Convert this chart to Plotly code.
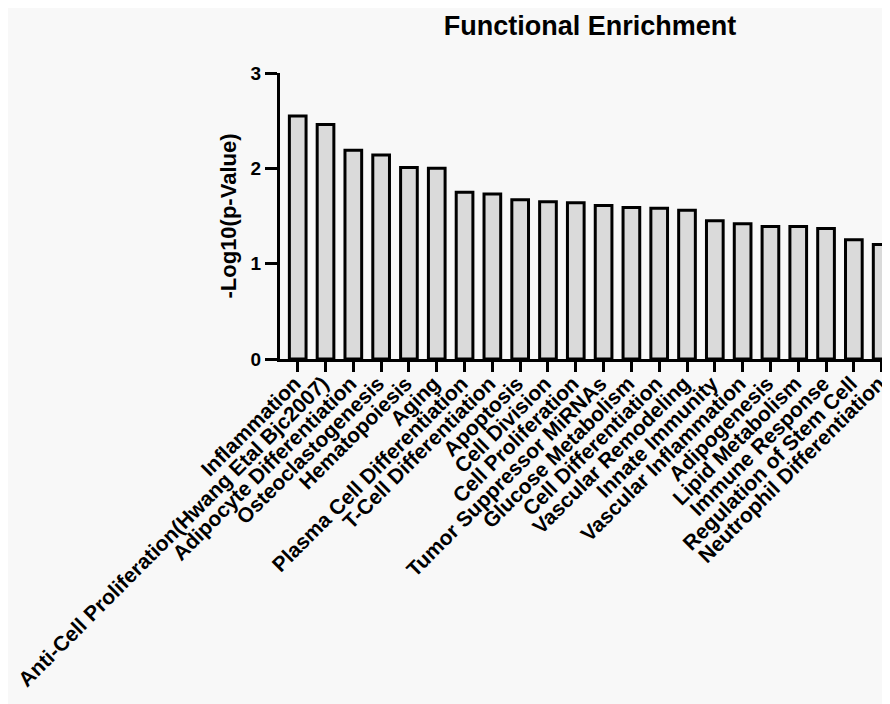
import plotly.graph_objects as go

categories = [
    "Inflammation",
    "Anti-Cell Proliferation(Hwang Etal Bjc2007)",
    "Adipocyte Differentiation",
    "Osteoclastogenesis",
    "Hematopoiesis",
    "Aging",
    "Plasma Cell Differentiation",
    "T-Cell Differentiation",
    "Apoptosis",
    "Cell Division",
    "Cell Proliferation",
    "Tumor Suppressor MiRNAs",
    "Glucose Metabolism",
    "Cell Differentiation",
    "Vascular Remodeling",
    "Innate Immunity",
    "Vascular Inflammation",
    "Adipogenesis",
    "Lipid Metabolism",
    "Immune Response",
    "Regulation of Stem Cell",
    "Neutrophil Differentiation",
]
values = [2.55, 2.46, 2.19, 2.14, 2.01, 2.00, 1.75, 1.73, 1.67, 1.65, 1.64,
          1.61, 1.59, 1.58, 1.56, 1.45, 1.42, 1.39, 1.39, 1.37, 1.25, 1.20]
y_ticks = [0, 1, 2, 3]

FONT = "Liberation Sans, Arial, sans-serif"
BG = "#f8f8f8"

fig = go.Figure(go.Bar(
    x=list(range(len(categories))),
    y=values,
    width=0.6,
    marker=dict(color="#dadada", line=dict(color="black", width=3)),
))

fig.update_layout(
    width=882, height=696,
    paper_bgcolor=BG, plot_bgcolor=BG,
    margin=dict(l=272, r=0, t=65, b=345, autoexpand=False),
    showlegend=False,
    title=dict(text="Functional Enrichment", x=582 / 882, xanchor="center",
               y=1 - 18 / 696, yanchor="middle", yref="container",
               font=dict(family=FONT, size=27, color="black", weight="bold")),
)
fig.update_xaxes(
    tickmode="array", tickvals=list(range(len(categories))), ticktext=categories,
    tickangle=-45, range=[-0.637, 21.3], automargin=False,
    showline=True, linecolor="black", linewidth=3,
    ticks="outside", ticklen=10, tickwidth=3, tickcolor="black",
    showgrid=False, zeroline=False, ticklabeloverflow="allow",
    ticklabelstandoff=-9, ticklabelshift=-3,
    tickfont=dict(family=FONT, size=21, color="black", weight="bold"),
)
fig.update_yaxes(
    range=[0, 3], tickvals=y_ticks, automargin=False,
    showline=True, linecolor="black", linewidth=3,
    ticks="outside", ticklen=12, tickwidth=3, tickcolor="black",
    showgrid=False, zeroline=False,
    tickfont=dict(family=FONT, size=19, color="black", weight="bold"),
    title=dict(text="-Log10(p-Value)", standoff=8,
               font=dict(family=FONT, size=22, color="black", weight="bold")),
)

fig.write_html("out.html")
